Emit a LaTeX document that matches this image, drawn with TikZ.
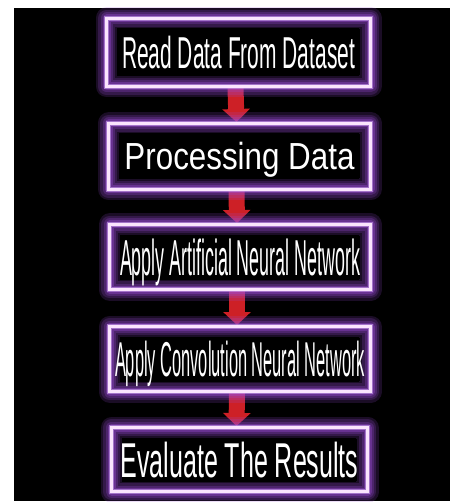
\documentclass[tikz,border=0pt]{standalone}
\usepackage{fontspec}
\setmainfont{Liberation Sans}
\usetikzlibrary{arrows.meta}
\definecolor{glowc}{RGB}{155,75,215}
\definecolor{halo}{RGB}{205,160,240}
\definecolor{rim}{RGB}{250,228,253}
\definecolor{arrowred}{RGB}{205,32,38}
\newcommand{\bxt}[3]{\resizebox{#1pt}{\height}{\fontsize{#2}{#2}\selectfont #3}}
\pgfdeclarelayer{bg}
\pgfsetlayers{bg,main}
\tikzset{
  glowbox/.style={rectangle, inner sep=0pt, text=white, draw=rim, line width=3pt,
    preaction={draw=glowc, line width=22pt, draw opacity=0.18, line join=round},
    preaction={draw=glowc, line width=17pt, draw opacity=0.2, line join=round},
    preaction={draw=glowc, line width=12pt, draw opacity=0.25, line join=round},
    preaction={draw=glowc, line width=8pt, draw opacity=0.35, line join=round},
    preaction={draw=halo, line width=5.5pt, draw opacity=0.6},
    path picture={\fill[black] ([shift={(10pt,-10pt)}]path picture bounding box.north west) rectangle ([shift={(-12pt,10pt)}]path picture bounding box.south east);}},
  flowarrow/.style={draw=arrowred, line width=16pt, -{Triangle[width=27pt,length=13pt]}}
}
\begin{document}
\begin{tikzpicture}[x=1pt,y=-1pt]
\useasboundingbox (0,0) rectangle (450,502);
\node[glowbox, minimum width=264pt, minimum height=68pt, text height=32pt, text depth=0pt] (b1) at (238.5,52.5) {\bxt{233}{44.7}{Read Data From Dataset}};
\node[glowbox, minimum width=262pt, minimum height=66pt, text height=27pt, text depth=0pt] (b2) at (239.5,156.5) {\bxt{230}{37.7}{Processing Data}};
\node[glowbox, minimum width=261pt, minimum height=65pt, text height=36pt, text depth=0pt] (b3) at (240,257) {\bxt{240}{50.5}{Apply Artificial Neural Network}};
\node[glowbox, minimum width=261pt, minimum height=65pt, text height=35pt, text depth=0pt] (b4) at (240,359) {\bxt{250}{48.9}{Apply Convolution Neural Network}};
\node[glowbox, minimum width=256pt, minimum height=64pt, text height=35pt, text depth=0pt] (b5) at (239.5,459.5) {\bxt{238}{48.9}{Evaluate The Results}};
\begin{pgfonlayer}{bg}
  \fill[white] (0,0) rectangle (450,502);
  \fill[black] (13.5,8) rectangle (450,501);
  \draw[flowarrow] ([xshift=-3pt]b1.south) -- ([xshift=-3pt]b2.north);
  \draw[flowarrow] ([xshift=-3pt]b2.south) -- ([xshift=-3pt]b3.north);
  \draw[flowarrow] ([xshift=-3pt]b3.south) -- ([xshift=-3pt]b4.north);
  \draw[flowarrow] ([xshift=-3pt]b4.south) -- ([xshift=-3pt]b5.north);
\end{pgfonlayer}
\end{tikzpicture}
\end{document}
